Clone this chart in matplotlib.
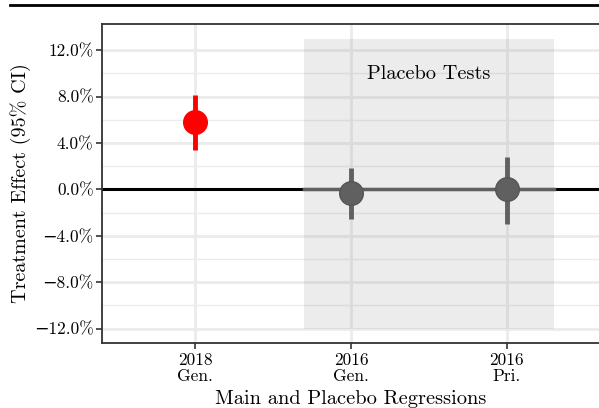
import matplotlib
matplotlib.use("Agg")
import matplotlib.pyplot as plt
from matplotlib.lines import Line2D
from matplotlib.patches import Rectangle

# Data
categories = ["2018\nGen.", "2016\nGen.", "2016\nPri."]
estimates = [5.76, -0.35, 0.0]
ci_low = [3.35, -2.6, -3.0]
ci_high = [8.17, 1.8, 2.75]
colors = ["#FF0000", "#606060", "#606060"]
yticks = [-12, -8, -4, 0, 4, 8, 12]
ytick_labels = ["\u221212.0%", "\u22128.0%", "\u22124.0%", "0.0%", "4.0%", "8.0%", "12.0%"]
minor_yticks = [-10, -6, -2, 2, 6, 10]
placebo_region = (1.7, 3.3, -12, 13)

plt.rcParams['font.family'] = ['cmr10', 'DejaVu Serif']
plt.rcParams['mathtext.fontset'] = 'cm'

fig = plt.figure(figsize=(5.99, 4.08), dpi=100)
ax = fig.add_axes([102/599, 1-343/408, (600.3-102)/599, (343-24)/408])

xs = [1, 2, 3]
ax.set_xlim(0.4, 3.6)
ax.set_ylim(-13.25, 14.25)

# grid
for y in yticks:
    ax.axhline(y, color="#EBEBEB", lw=2.0, zorder=0)
for y in minor_yticks:
    ax.axhline(y, color="#EBEBEB", lw=1.0, zorder=0)
for x in xs:
    ax.axvline(x, color="#EBEBEB", lw=2.0, zorder=0)

x0, x1, y0, y1 = placebo_region
ax.add_patch(Rectangle((x0, y0), x1 - x0, y1 - y0, facecolor="#808080", alpha=0.15,
                       edgecolor="none", zorder=1))
ax.text((x0 + x1) / 2, 9.9, "Placebo Tests", ha="center", va="center", fontsize=14.6, zorder=5)

ax.axhline(0, color="black", lw=2.2, zorder=2)
ax.plot([x0, x1], [0, 0], color="#606060", lw=2.5, zorder=3)

for x, e, lo, hi, c in zip(xs, estimates, ci_low, ci_high, colors):
    ax.plot([x, x], [lo, hi], color=c, lw=3.5, solid_capstyle="butt", zorder=4)
    ax.plot([x], [e], "o", color=c, markersize=17, markeredgecolor=c if c == "#FF0000" else "#555555",
            markeredgewidth=1, zorder=5)

ax.set_xticks(xs)
ax.set_xticklabels(categories, fontsize=12.5, linespacing=1.05)
ax.set_yticks(yticks)
ax.set_yticklabels(ytick_labels, fontsize=12.5)
ax.tick_params(axis="both", length=4, width=1.2, color="#333333", labelcolor="black")
ax.tick_params(axis="x", pad=3)
ax.tick_params(axis="y", pad=2)

for s in ["left", "bottom", "top"]:
    ax.spines[s].set_color("#333333")
    ax.spines[s].set_linewidth(1.3)
ax.spines["right"].set_visible(False)

ax.set_ylabel("Treatment Effect (95% CI)", fontsize=14.5, labelpad=2)
ax.set_xlabel("Main and Placebo Regressions", fontsize=14.7, labelpad=4)

fig.add_artist(Line2D([10/599, 1.0], [1-5/408, 1-5/408], color="black", lw=2.0,
                      transform=fig.transFigure))

fig.savefig("out.png", dpi=100)
